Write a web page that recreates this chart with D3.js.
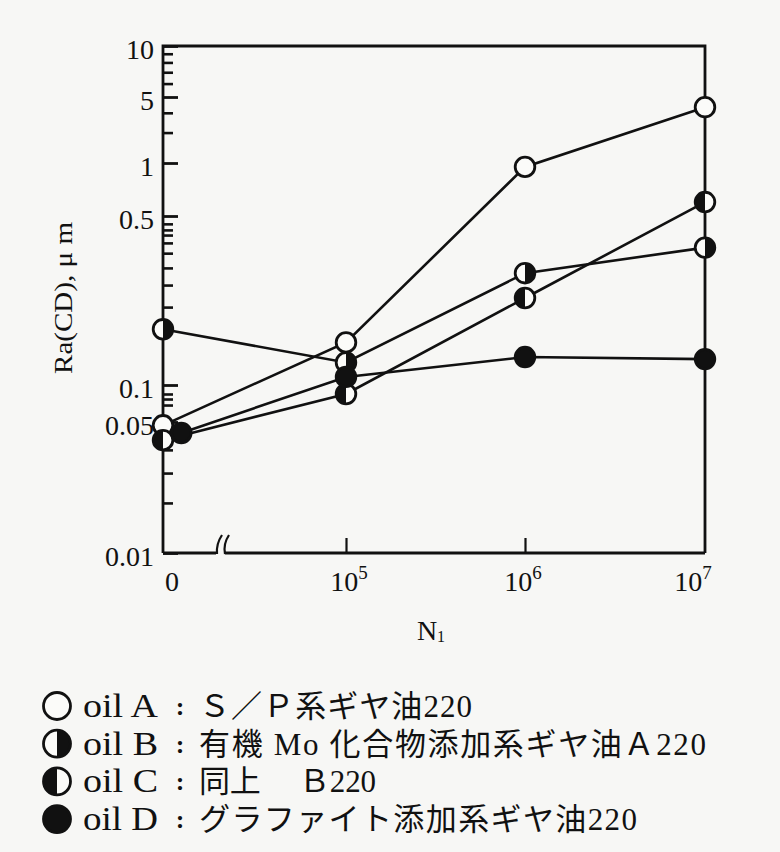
<!DOCTYPE html>
<html><head><meta charset="utf-8">
<script src="https://cdn.jsdelivr.net/npm/d3@7"></script>
<style>
body{margin:0;background:#f7f7f5;}
svg{display:block;}
</style>
</head><body>
<svg id="c" width="780" height="852"></svg>
<script>
// ---------------- data ----------------
const categories = ["0", "10^5", "10^6", "10^7"];
const categoryIndex = [0, 1, 2, 3];
const seriesNames = ["oil A", "oil B", "oil C", "oil D"];
const seriesDesc = ["Ｓ／Ｐ系ギヤ油220", "有機 Mo 化合物添加系ギヤ油Ａ220", "同上　 Ｂ220", "グラファイト添加系ギヤ油220"];
const seriesMarker = ["open", "rightHalf", "leftHalf", "filled"];
const oilA = [0.048, 0.15, 0.95, 3.9];
const oilB = [0.17, 0.124, 0.29, 0.37];
const oilC = [0.040, 0.0845, 0.229, 0.60];
const oilD = [0.0437, 0.108, 0.1305, 0.128];
const oilDIndex = [0.1, 1, 2, 3];   // oil D first point drawn slightly right of the axis
const yMajorTicks = [10, 5, 1, 0.5, 0.1, 0.05, 0.01];
const yMajorLabels = ["10", "5", "1", "0.5", "0.1", "0.05", "0.01"];
const yMinorTicks = [9, 8, 7, 6, 3.4, 2.1, 0.464, 0.438, 0.417, 0.387, 0.351, 0.305, 0.259, 0.21,
                     0.0845, 0.0769, 0.0687, 0.0355, 0.0267, 0.0185];
const xAxisTitle = "N";
const xAxisTitleSub = "1";
const yAxisTitle = "Ra(CD), μ m";

// ---------------- layout ----------------
const svg = d3.select("#c");
const INK = "#111";
const serif = "'Liberation Serif','DejaVu Serif',serif";
const cjk = "'Liberation Serif','Noto Sans CJK JP',serif";

const y = d3.scaleLog().domain(yMajorTicks).range([46, 97, 163, 216, 385, 422, 553]);
const x = d3.scaleLinear().domain([0, 1, 2, 3]).range([163, 346, 525, 705]);
const plot = {left: 163, right: 705, top: 46, bottom: 553};

svg.append("rect").attr("width", 780).attr("height", 852).attr("fill", "#f7f7f5");

// frame: left, top, right
svg.append("path")
  .attr("d", `M${plot.left},${plot.bottom}V${plot.top}H${plot.right}V${plot.bottom}`)
  .attr("fill", "none").attr("stroke", INK).attr("stroke-width", 2.8);
// bottom axis with break
const brk = 216;
svg.append("path")
  .attr("d", `M${plot.left},${plot.bottom}H${brk}M${brk + 9},${plot.bottom}H${plot.right}`)
  .attr("fill", "none").attr("stroke", INK).attr("stroke-width", 2.8);
svg.append("path")
  .attr("d", `M${brk + 6},${plot.bottom - 18}Q${brk},${plot.bottom - 9} ${brk + 1},${plot.bottom + 1}` +
             `M${brk + 13},${plot.bottom - 18}Q${brk + 7},${plot.bottom - 9} ${brk + 9},${plot.bottom + 1}`)
  .attr("fill", "none").attr("stroke", INK).attr("stroke-width", 2.2);

// y axis major ticks + labels
const yAxis = d3.axisLeft(y).tickValues(yMajorTicks)
  .tickFormat((d, i) => yMajorLabels[i]).tickSizeInner(-15).tickSizeOuter(0).tickPadding(9);
const gy = svg.append("g").attr("transform", `translate(${plot.left},0)`).call(yAxis);
gy.select(".domain").remove();
gy.selectAll("line").attr("stroke", INK).attr("stroke-width", 2.8);
gy.selectAll("text").attr("font-family", serif).attr("font-size", 28).attr("fill", INK).attr("dy", "0.45em");
// minor ticks
const yMinor = d3.axisLeft(y).tickValues(yMinorTicks).tickFormat("").tickSizeInner(-10).tickSizeOuter(0);
const gym = svg.append("g").attr("transform", `translate(${plot.left},0)`).call(yMinor);
gym.select(".domain").remove();
gym.selectAll("line").attr("stroke", INK).attr("stroke-width", 2.6);

// x axis ticks (inward)
const xAxis = d3.axisBottom(x).tickValues([1, 2]).tickFormat("").tickSizeInner(-15).tickSizeOuter(0);
const gx = svg.append("g").attr("transform", `translate(0,${plot.bottom})`).call(xAxis);
gx.select(".domain").remove();
gx.selectAll("line").attr("stroke", INK).attr("stroke-width", 2.2);

// x labels with superscripts
const xLabelDx = [9, 3, -2, -12];
categories.forEach((c, i) => {
  const t = svg.append("text").attr("x", x(categoryIndex[i]) + xLabelDx[i]).attr("y", 591)
    .attr("text-anchor", "middle").attr("font-family", serif).attr("font-size", 28).attr("fill", INK);
  const parts = c.split("^");
  t.append("tspan").text(parts[0]);
  if (parts[1]) t.append("tspan").attr("dy", -12).attr("font-size", 19).text(parts[1]);
});

// axis titles
const xt = svg.append("text").attr("x", 431).attr("y", 640).attr("text-anchor", "middle")
  .attr("font-family", serif).attr("font-size", 28).attr("fill", INK);
xt.append("tspan").text(xAxisTitle);
xt.append("tspan").attr("font-size", 16).attr("dy", 2).text(xAxisTitleSub);

svg.append("text").attr("transform", "translate(72,298) rotate(-90)").attr("text-anchor", "middle")
  .attr("font-family", serif).attr("font-size", 26).attr("fill", INK)
  .attr("textLength", 152).attr("lengthAdjust", "spacingAndGlyphs").text(yAxisTitle);

// ---------------- series ----------------
const series = [
  {vals: oilA, idx: categoryIndex, m: seriesMarker[0]},
  {vals: oilB, idx: categoryIndex, m: seriesMarker[1]},
  {vals: oilC, idx: categoryIndex, m: seriesMarker[2]},
  {vals: oilD, idx: oilDIndex, m: seriesMarker[3]}
];
const line = d3.line().x(d => x(d[0])).y(d => y(d[1]));
series.forEach(s => {
  const pts = s.vals.map((v, i) => [s.idx[i], v]);
  svg.append("path").datum(pts).attr("d", line)
    .attr("fill", "none").attr("stroke", INK).attr("stroke-width", 2.6);
});

function marker(g, cx, cy, r, kind, sw) {
  g.append("circle").attr("cx", cx).attr("cy", cy).attr("r", r)
    .attr("fill", kind === "filled" ? INK : "#fbfbf9");
  if (kind === "rightHalf" || kind === "leftHalf") {
    const sweep = kind === "rightHalf" ? 1 : 0;
    g.append("path")
      .attr("d", `M${cx},${cy - r}A${r},${r} 0 0 ${sweep} ${cx},${cy + r}Z`)
      .attr("fill", INK);
  }
  g.append("circle").attr("cx", cx).attr("cy", cy).attr("r", r)
    .attr("fill", "none").attr("stroke", INK).attr("stroke-width", sw);
}
const gm = svg.append("g");
series.forEach(s => {
  s.vals.forEach((v, i) => marker(gm, x(s.idx[i]), y(v), 9.8, s.m, 2.8));
});

// ---------------- legend ----------------
const legTop = 706, legStep = 37.7;
const descWidth = [273, 507, 177, 438];
seriesNames.forEach((n, i) => {
  const cy = legTop + i * legStep;
  marker(svg, 57, cy, 13.5, seriesMarker[i], 2.8);
  svg.append("text").attr("x", 83).attr("y", cy + 11).attr("font-family", serif)
    .attr("font-size", 33).attr("fill", INK).attr("textLength", 75).attr("lengthAdjust", "spacingAndGlyphs").text(n);
  svg.append("text").attr("x", 180).attr("y", cy + 9).attr("text-anchor", "middle")
    .attr("font-family", serif).attr("font-weight", "bold").attr("font-size", 26).attr("fill", INK).text(":");
  svg.append("text").attr("x", 199).attr("y", cy + 11).attr("font-family", cjk)
    .attr("font-size", 31).attr("fill", INK).attr("textLength", descWidth[i]).attr("lengthAdjust", "spacing")
    .text(seriesDesc[i]);
});
</script>
</body></html>
